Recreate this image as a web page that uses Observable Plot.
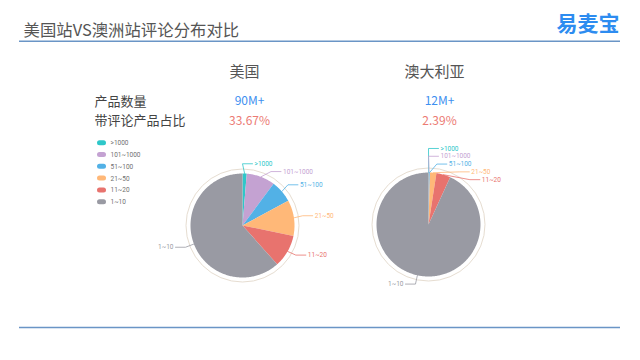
<!DOCTYPE html>
<html><head><meta charset="utf-8">
<script src="https://cdn.jsdelivr.net/npm/d3@7"></script>
<script src="https://cdn.jsdelivr.net/npm/@observablehq/plot@0.6"></script>
<style>
body{margin:0;background:#fff;}
#wrap{width:640px;height:360px;overflow:hidden;}
</style></head><body><div id="wrap"></div>
<script>
// ---- data ----
const title = "美国站VS澳洲站评论分布对比";
const brand = "易麦宝";
const markets = ["美国", "澳大利亚"];
const rowLabels = ["产品数量", "带评论产品占比"];
const productCounts = ["90M+", "12M+"];
const reviewedShares = ["33.67%", "2.39%"];
const categories = [">1000", "101~1000", "51~100", "21~50", "11~20", "1~10"];
const palette = ["#2ec7c9", "#c4a2d2", "#52b1e6", "#ffb878", "#e8736e", "#999aa3"];
const usShares = [1.3, 8.9, 6.9, 11.1, 10.2, 61.6];
const auShares = [0.1, 0.15, 0.2, 2.0, 4.4, 93.15];

// ---- layout ----
const FONT = "'Noto Sans CJK SC','Noto Sans',sans-serif";
const SMALL = "Roboto,'Liberation Sans',sans-serif";
const L = {
  pies: [{cx: 242, cy: 225}, {cx: 428, cy: 224}],
  colX: [244, 434],
  r: 52, ring: 56.5, L1: 9, L2: 10, gap: 2, minGap: 7.8,
  legend: {x: 97, tx: 110, y0: 142.7, dy: 11.8, w: 9, h: 5}
};

function buildPie(shares, p) {
  const {cx, cy} = L.pies[p];
  const arcs = d3.pie().sort(null).value(d => d)(shares);
  const pt = (a, R) => [cx + R * Math.sin(a), cy - R * Math.cos(a)];
  const wedges = [], leaders = [], labels = [];
  arcs.forEach((a, i) => {
    const key = p + "-" + i, cat = categories[i];
    const n = Math.max(2, Math.ceil((a.endAngle - a.startAngle) / (Math.PI / 180)));
    wedges.push({x: cx, y: cy, key, cat});
    for (let k = 0; k <= n; k++) {
      const [x, y] = pt(a.startAngle + (a.endAngle - a.startAngle) * k / n, L.r);
      wedges.push({x, y, key, cat});
    }
    wedges.push({x: cx, y: cy, key, cat});
  });
  const R = L.r + L.L1;
  const items = arcs.map((a, i) => {
    const m = (a.startAngle + a.endAngle) / 2;
    const [x0, y0] = pt(m, L.r);
    return {i, x0, y0, side: Math.sin(m) >= 0 ? 1 : -1, y: cy - R * Math.cos(m)};
  });
  for (const side of [1, -1]) {
    const g = items.filter(d => d.side === side).sort((a, b) => a.y - b.y);
    if (!g.length) continue;
    const nat = d3.mean(g, d => d.y);
    for (let k = 1; k < g.length; k++) g[k].y = Math.max(g[k].y, g[k - 1].y + L.minGap);
    const shift = nat - d3.mean(g, d => d.y);
    g.forEach(d => d.y += shift);
  }
  items.forEach(d => {
    const dy = d.y - cy;
    const x1 = cx + d.side * Math.sqrt(Math.max(0, R * R - dy * dy));
    const x2 = x1 + d.side * L.L2;
    const key = p + "-" + d.i, cat = categories[d.i];
    leaders.push({x: d.x0, y: d.y0, key, cat}, {x: x1, y: d.y, key, cat}, {x: x2, y: d.y, key, cat});
    labels.push({x: x2 + d.side * L.gap, y: d.y, cat, side: d.side});
  });
  return {wedges, leaders, labels, cx, cy};
}

const pies = [buildPie(usShares, 0), buildPie(auShares, 1)];
const wedges = pies.flatMap(d => d.wedges);
const leaders = pies.flatMap(d => d.leaders);
const labels = pies.flatMap(d => d.labels);
const centers = pies.map(d => ({x: d.cx, y: d.cy}));
const legendData = categories.map((c, i) => ({cat: c, y: L.legend.y0 + i * L.legend.dy}));
const headerData = markets.map((m, i) => ({text: m, x: L.colX[i]}));
const countData = productCounts.map((t, i) => ({text: t, x: L.colX[i] + 5}));
const shareData = reviewedShares.map((t, i) => ({text: t, x: L.colX[i] + 5}));

const chart = Plot.plot({
  width: 640, height: 360, margin: 0,
  x: {domain: [0, 640], range: [0, 640], axis: null},
  y: {domain: [0, 360], range: [0, 360], axis: null},
  color: {domain: categories, range: palette},
  style: {fontFamily: FONT, background: "#fff"},
  marks: [
    Plot.ruleY([40.7], {x1: 19, x2: 620, stroke: "#6a95c6", strokeWidth: 1.5}),
    Plot.ruleY([327], {x1: 19, x2: 620, stroke: "#6a95c6", strokeWidth: 1.5}),
    Plot.text([title], {x: 23, y: 30.3, text: d => d, textAnchor: "start", fontSize: 16.4, fill: "#555"}),
    Plot.text([brand], {x: 619, y: 23.8, text: d => d, textAnchor: "end", fontSize: 21, fontWeight: "bold", fill: "#2d8cf0"}),
    Plot.text(headerData, {x: "x", y: 71.4, text: "text", fontSize: 15, fill: "#555"}),
    Plot.text(rowLabels, {x: 94, y: (d, i) => [101.3, 120.6][i], text: d => d, textAnchor: "start", fontSize: 13, fill: "#444"}),
    Plot.text(countData, {x: "x", y: 101, text: "text", fontSize: 12, fill: "#3d8ff0"}),
    Plot.text(shareData, {x: "x", y: 120.5, text: "text", fontSize: 12, fill: "#ec7b74"}),
    Plot.dot(centers, {x: "x", y: "y", r: L.ring, stroke: "#e6ddd1", strokeWidth: 1, fill: "none"}),
    Plot.line(wedges, {x: "x", y: "y", z: "key", fill: "cat", stroke: "none", curve: "linear"}),
    Plot.line(leaders, {x: "x", y: "y", z: "key", stroke: "cat", strokeWidth: 0.8}),
    Plot.text(labels.filter(d => d.side > 0), {x: "x", y: "y", text: "cat", fill: "cat", textAnchor: "start", fontSize: 6.5, fontFamily: SMALL}),
    Plot.text(labels.filter(d => d.side < 0), {x: "x", y: "y", text: "cat", fill: "cat", textAnchor: "end", fontSize: 6.5, fontFamily: SMALL}),
    Plot.rect(legendData, {x1: L.legend.x, x2: L.legend.x + L.legend.w, y1: d => d.y - L.legend.h / 2, y2: d => d.y + L.legend.h / 2, fill: "cat", rx: 2.5}),
    Plot.text(legendData, {x: L.legend.tx, y: "y", text: "cat", textAnchor: "start", fontSize: 6.5, fontFamily: SMALL, fill: "#6f6f6f"})
  ]
});
document.getElementById("wrap").appendChild(chart);
</script>
</body></html>
